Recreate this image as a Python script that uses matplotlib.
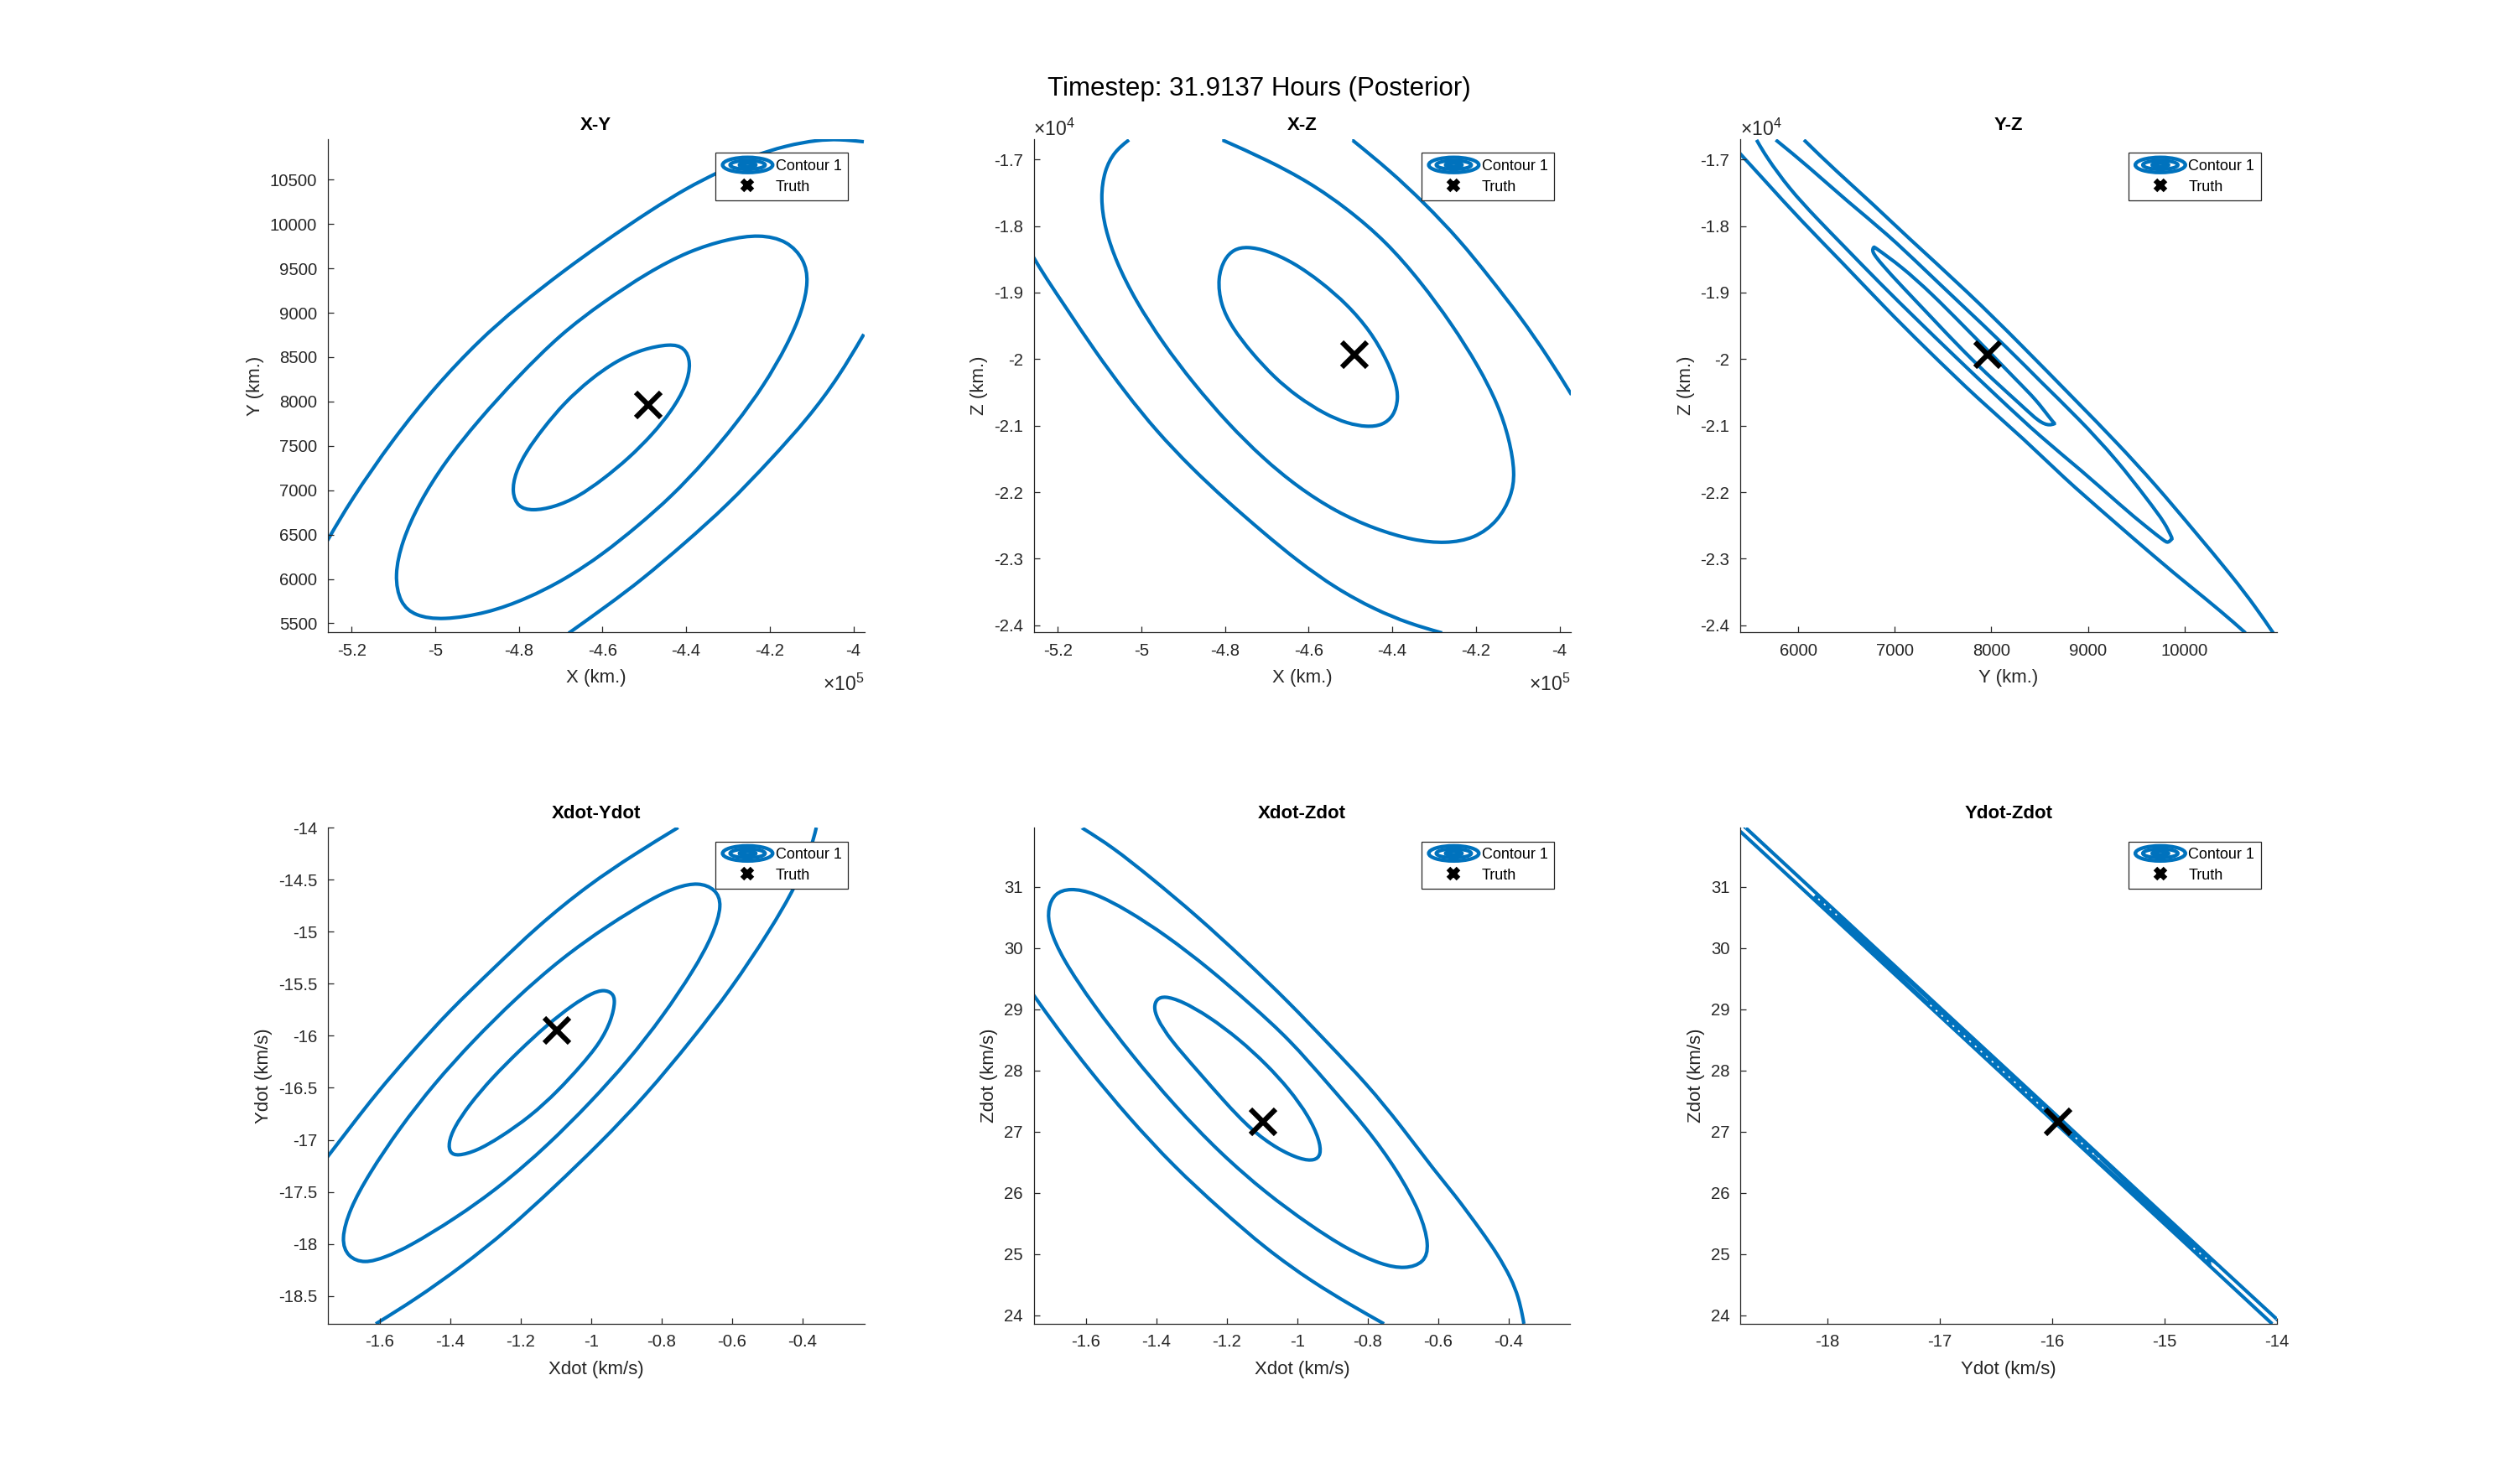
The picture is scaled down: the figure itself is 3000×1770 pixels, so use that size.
"""
Posterior covariance contours for one timestep, six state-pair panels.
"""

import numpy as np
import matplotlib

matplotlib.use("Agg")
import matplotlib.pyplot as plt
from matplotlib.lines import Line2D
from matplotlib.patches import Ellipse, PathPatch
from matplotlib.path import Path
from matplotlib.legend_handler import HandlerBase

plt.rcParams["font.family"] = ["Liberation Sans", "DejaVu Sans"]
plt.rcParams["mathtext.fontset"] = "custom"
plt.rcParams["mathtext.rm"] = "Liberation Sans"
plt.rcParams["mathtext.default"] = "regular"

BLUE = "#0072BD"
DARK = "#262626"

SUPTITLE = "Timestep: 31.9137 Hours (Posterior)"

# X in 1e5 km, Y in km
XY_INNER = [(-4.438, 8652), (-4.404, 8613), (-4.388, 8445), (-4.399, 8180), (-4.435, 7892),
            (-4.481, 7627), (-4.537, 7362), (-4.599, 7122), (-4.660, 6920), (-4.716, 6809),
            (-4.768, 6766), (-4.803, 6809), (-4.817, 6977), (-4.809, 7194), (-4.783, 7434),
            (-4.742, 7699), (-4.691, 7988), (-4.629, 8252), (-4.568, 8455), (-4.506, 8589)]
XY_MIDDLE = [(-4.225, 9884), (-4.158, 9816), (-4.117, 9600), (-4.107, 9359), (-4.122, 9022),
             (-4.158, 8637), (-4.214, 8180), (-4.281, 7747), (-4.353, 7338), (-4.435, 6929),
             (-4.517, 6592), (-4.599, 6280), (-4.691, 5991), (-4.783, 5774), (-4.875, 5615),
             (-4.983, 5534), (-5.049, 5582), (-5.085, 5726), (-5.098, 6039), (-5.080, 6424),
             (-5.039, 6857), (-4.978, 7314), (-4.896, 7795), (-4.803, 8277), (-4.701, 8758),
             (-4.599, 9119), (-4.491, 9456), (-4.394, 9696), (-4.301, 9831)]
XY_OUTER_A = [(-5.258, 6434), (-5.203, 6881), (-5.101, 7579), (-4.998, 8180), (-4.896, 8686),
              (-4.803, 9071), (-4.691, 9480), (-4.599, 9792), (-4.486, 10153), (-4.394, 10418),
              (-4.332, 10562), (-4.250, 10755), (-4.158, 10889), (-4.086, 10947),
              (-4.035, 10957), (-3.975, 10928)]
XY_OUTER_B = [(-4.681, 5389), (-4.588, 5702), (-4.506, 5991), (-4.404, 6400), (-4.301, 6833),
              (-4.199, 7338), (-4.107, 7819), (-4.035, 8277), (-3.975, 8758)]

# X in 1e5 km, Z in km
XZ_INNER = [(-4.748, -18308), (-4.700, -18365), (-4.636, -18549), (-4.571, -18837),
            (-4.507, -19183), (-4.452, -19586), (-4.415, -19989), (-4.392, -20335),
            (-4.385, -20594), (-4.396, -20853), (-4.424, -20997), (-4.461, -21020),
            (-4.507, -20969), (-4.562, -20825), (-4.627, -20565), (-4.682, -20277),
            (-4.737, -19903), (-4.783, -19529), (-4.811, -19183), (-4.818, -18780),
            (-4.802, -18492), (-4.779, -18348)]
XZ_MIDDLE = [(-5.030, -16706), (-5.065, -16879), (-5.089, -17167), (-5.098, -17570),
             (-5.088, -18031), (-5.060, -18549), (-5.014, -19125), (-4.949, -19759),
             (-4.876, -20364), (-4.793, -20969), (-4.710, -21487), (-4.627, -21919),
             (-4.535, -22293), (-4.442, -22553), (-4.350, -22725), (-4.272, -22772),
             (-4.203, -22697), (-4.147, -22437), (-4.115, -22063), (-4.106, -21717),
             (-4.120, -21199), (-4.147, -20681), (-4.194, -20105), (-4.258, -19471),
             (-4.332, -18837), (-4.415, -18233), (-4.507, -17743), (-4.599, -17340),
             (-4.700, -17006), (-4.807, -16706)]
XZ_OUTER_A = [(-4.496, -16706), (-4.406, -17167), (-4.323, -17657), (-4.240, -18204),
              (-4.166, -18780), (-4.092, -19380), (-4.028, -19960), (-3.973, -20519)]
XZ_OUTER_B = [(-5.259, -18463), (-5.230, -18768), (-5.176, -19269), (-5.112, -19874),
              (-5.038, -20508), (-4.964, -21084), (-4.881, -21631), (-4.798, -22121),
              (-4.708, -22610), (-4.627, -23031), (-4.535, -23445), (-4.442, -23762),
              (-4.359, -23975), (-4.281, -24114)]

# Y, Z in km
YZ_INNER = [(6786, -18314), (6786, -18314), (7066, -18604), (7385, -19020), (7705, -19490),
            (8024, -19960), (8263, -20320), (8463, -20610), (8603, -20882), (8655, -20969),
            (8655, -20969), (8603, -20997), (8503, -20957), (8303, -20681), (8024, -20320),
            (7705, -19874), (7385, -19380), (7066, -18895), (6866, -18578), (6755, -18377)]
YZ_MIDDLE = [(5569, -16706), (5669, -16960), (5908, -17440), (6188, -17880), (6467, -18293),
             (6842, -18855), (7243, -19426), (7591, -19916), (8081, -20590), (8512, -21173),
             (8933, -21672), (9332, -22191), (9620, -22540), (9790, -22730), (9828, -22766),
             (9872, -22697), (9872, -22697), (9800, -22466), (9621, -22121), (9301, -21516),
             (8902, -20890), (8503, -20330), (8197, -19874), (7620, -19084), (7305, -18650),
             (6928, -18127), (6507, -17628), (6108, -17109), (5768, -16706)]
YZ_OUTER_A = [(5385, -16891), (5669, -17340), (6028, -17916), (6467, -18564), (6899, -19229),
              (7305, -19817), (7880, -20623), (8339, -21200), (8743, -21775), (9222, -22380),
              (9701, -22985), (10060, -23417), (10379, -23791), (10631, -24114)]
YZ_OUTER_B = [(6060, -16706), (6387, -17167), (6786, -17685), (7101, -18127), (7764, -19000),
              (8312, -19791), (8874, -20623), (9301, -21257), (9701, -21890),
              (10100, -22581), (10499, -23273), (10739, -23733), (10918, -24114)]

# km/s
XDYD_INNER = [(-0.964, -15.556), (-0.939, -15.589), (-0.931, -15.663), (-0.942, -15.848),
              (-0.975, -16.070), (-1.030, -16.293), (-1.095, -16.533), (-1.172, -16.774),
              (-1.259, -16.978), (-1.325, -17.107), (-1.379, -17.156), (-1.401, -17.126),
              (-1.405, -17.033), (-1.390, -16.885), (-1.346, -16.663), (-1.281, -16.404),
              (-1.204, -16.144), (-1.128, -15.904), (-1.051, -15.700), (-0.997, -15.589)]
XDYD_MIDDLE = [(-0.696, -14.526), (-0.647, -14.589), (-0.627, -14.737), (-0.654, -15.033),
               (-0.708, -15.367), (-0.796, -15.811), (-0.894, -16.237), (-1.003, -16.644),
               (-1.123, -17.052), (-1.255, -17.441), (-1.386, -17.756), (-1.517, -18.026),
               (-1.583, -18.126), (-1.643, -18.189), (-1.691, -18.126), (-1.710, -17.959),
               (-1.685, -17.663), (-1.631, -17.330), (-1.543, -16.885), (-1.445, -16.459),
               (-1.336, -16.052), (-1.215, -15.644), (-1.084, -15.256), (-0.953, -14.941),
               (-0.822, -14.670), (-0.756, -14.570)]
XDYD_OUTER_A = [(-1.748, -17.163), (-1.685, -16.885), (-1.609, -16.552), (-1.510, -16.163),
                (-1.401, -15.756), (-1.281, -15.367), (-1.150, -14.941), (-1.008, -14.552),
                (-0.877, -14.256), (-0.753, -14.000)]
XDYD_OUTER_B = [(-1.611, -18.767), (-1.499, -18.533), (-1.368, -18.219), (-1.237, -17.867),
                (-1.106, -17.459), (-0.975, -17.033), (-0.844, -16.570), (-0.713, -16.033),
                (-0.603, -15.552), (-0.494, -14.996), (-0.417, -14.552), (-0.374, -14.181),
                (-0.361, -14.000)]

XDZD_INNER = [(-1.377, 29.219), (-1.328, 29.137), (-1.251, 28.885), (-1.164, 28.508),
              (-1.087, 28.099), (-1.022, 27.690), (-0.967, 27.249), (-0.937, 26.872),
              (-0.932, 26.620), (-0.951, 26.526), (-0.989, 26.544), (-1.055, 26.714),
              (-1.131, 27.029), (-1.208, 27.501), (-1.284, 28.004), (-1.361, 28.508),
              (-1.399, 28.854), (-1.407, 29.043), (-1.399, 29.169)]
XDZD_MIDDLE = [(-1.645, 30.981), (-1.579, 30.912), (-1.481, 30.616), (-1.372, 30.207),
               (-1.251, 29.672), (-1.131, 29.074), (-1.022, 28.508), (-0.913, 27.784),
               (-0.803, 27.060), (-0.716, 26.368), (-0.650, 25.676), (-0.625, 25.141),
               (-0.639, 24.858), (-0.694, 24.757), (-0.760, 24.826), (-0.858, 25.078),
               (-0.967, 25.487), (-1.087, 25.991), (-1.219, 26.651), (-1.350, 27.438),
               (-1.470, 28.256), (-1.579, 29.074), (-1.667, 29.829), (-1.705, 30.333),
               (-1.708, 30.648), (-1.689, 30.899)]
XDZD_OUTER_A = [(-1.612, 31.969), (-1.525, 31.655), (-1.415, 31.151), (-1.284, 30.522),
                (-1.153, 29.829), (-1.022, 29.106), (-0.913, 28.445), (-0.803, 27.784),
                (-0.705, 27.092), (-0.607, 26.337), (-0.557, 26.000), (-0.475, 25.360),
                (-0.432, 25.000), (-0.393, 24.606), (-0.372, 24.290), (-0.361, 24.000),
                (-0.357, 23.863)]
XDZD_OUTER_B = [(-1.748, 29.232), (-1.678, 28.665), (-1.590, 28.004), (-1.481, 27.249),
                (-1.350, 26.431), (-1.219, 25.739), (-1.087, 25.078), (-0.956, 24.543),
                (-0.847, 24.166), (-0.754, 23.863)]

YDZD_INNER = [(-17.156, 29.224), (-16.993, 28.959), (-16.589, 28.279), (-16.188, 27.602),
              (-15.790, 26.920), (-15.556, 26.505), (-15.810, 26.920), (-16.212, 27.602),
              (-16.611, 28.279), (-17.007, 28.959)]
YDZD_MIDDLE = [(-18.170, 30.947), (-17.988, 30.658), (-17.478, 29.808), (-16.974, 28.959),
               (-16.472, 28.109), (-15.973, 27.260), (-15.475, 26.410), (-14.981, 25.561),
               (-14.688, 25.051), (-14.520, 24.745), (-14.712, 25.051), (-15.019, 25.561),
               (-15.525, 26.410), (-16.028, 27.260), (-16.528, 28.109), (-17.026, 28.959),
               (-17.522, 29.808), (-18.012, 30.658)]
YDZD_OUTER_A = [(-18.777, 31.907), (-17.540, 29.808), (-16.542, 28.109), (-16.042, 27.260),
                (-15.040, 25.561), (-14.038, 23.854)]
YDZD_OUTER_B = [(-18.731, 31.970), (-17.460, 29.808), (-16.458, 28.109), (-15.958, 27.260),
                (-14.960, 25.561), (-14.000, 23.936)]
# small gaps showing between the overlapping Ydot-Zdot lines
YDZD_SPECKLE = [[(-18.133, 30.887), (-17.905, 30.520)],
                [(-17.086, 29.070), (-15.581, 26.550)],
                [(-14.743, 25.100), (-14.514, 24.755)]]

TRUTH_X = -4.49
TRUTH_Y = 7965
TRUTH_Z = -19938
TRUTH_XDOT = -1.098
TRUTH_YDOT = -15.948
TRUTH_ZDOT = 27.167

X_TICKS = [-5.2, -5.0, -4.8, -4.6, -4.4, -4.2, -4.0]
X_LABELS = ["-5.2", "-5", "-4.8", "-4.6", "-4.4", "-4.2", "-4"]
Y_TICKS = [5500, 6000, 6500, 7000, 7500, 8000, 8500, 9000, 9500, 10000, 10500]
Y_TICKS_B = [6000, 7000, 8000, 9000, 10000]
Z_TICKS = [-24000, -23000, -22000, -21000, -20000, -19000, -18000, -17000]
Z_LABELS = ["-2.4", "-2.3", "-2.2", "-2.1", "-2", "-1.9", "-1.8", "-1.7"]
XD_TICKS = [-1.6, -1.4, -1.2, -1.0, -0.8, -0.6, -0.4]
XD_LABELS = ["-1.6", "-1.4", "-1.2", "-1", "-0.8", "-0.6", "-0.4"]
YD_TICKS = [-18.5, -18, -17.5, -17, -16.5, -16, -15.5, -15, -14.5, -14]
YD_LABELS = ["-18.5", "-18", "-17.5", "-17", "-16.5", "-16", "-15.5", "-15", "-14.5", "-14"]
YD_TICKS_B = [-18, -17, -16, -15, -14]
ZD_TICKS = [24, 25, 26, 27, 28, 29, 30, 31]

X_LIM = (-5.258, -3.974)
Y_LIM = (5400, 10957)
Z_LIM = (-24103, -16695)
XD_LIM = (-1.748, -0.225)
YD_LIM = (-18.777, -14.0)
ZD_LIM = (23.862, 31.97)


def smooth_path(points, closed):
    """Uniform cubic B-spline with the read points as control polygon, evens out reading noise."""
    pts = np.array(points, dtype=float)
    if not closed:
        # clamp the ends so open arcs still reach the axes edges
        pts = np.vstack([pts[0], pts[0], pts, pts[-1], pts[-1]])
    n = len(pts)
    last = n if closed else n - 3
    verts = []
    codes = []
    for i in range(last):
        p0, p1, p2, p3 = (pts[(i + k) % n] for k in range(4))
        start = (p0 + 4 * p1 + p2) / 6
        if i == 0:
            verts.append(start)
            codes.append(Path.MOVETO)
        verts += [(2 * p1 + p2) / 3, (p1 + 2 * p2) / 3, (p1 + 4 * p2 + p3) / 6]
        codes += [Path.CURVE4] * 3
    return Path(verts, codes)


class ContourHandler(HandlerBase):
    """Legend key: the three nested ellipses MATLAB draws for a contour."""

    def create_artists(self, legend, orig_handle, xdescent, ydescent, width, height, fontsize, trans):
        cx = width / 2 - xdescent
        cy = height / 2 - ydescent
        out = []
        for w, h in [(43.0, 13.0), (30.0, 7.5), (14.0, 3.2)]:
            out.append(Ellipse((cx, cy), w, h, fill=False, edgecolor=BLUE, linewidth=3.1, transform=trans))
        return out


def draw_panel(ax, title, xlabel, ylabel, closed, arcs, truth, xlim, ylim, xticks, xlabels, yticks, ylabels):
    for pts in closed:
        ax.add_patch(PathPatch(smooth_path(pts, True), fill=False, edgecolor=BLUE, linewidth=3.0))
    for pts in arcs:
        ax.add_patch(PathPatch(smooth_path(pts, False), fill=False, edgecolor=BLUE, linewidth=3.0))
    ax.plot([truth[0]], [truth[1]], marker="x", color="k", markersize=21, markeredgewidth=4.4,
            linestyle="none", zorder=5)

    ax.set_xlim(xlim)
    ax.set_ylim(ylim)
    ax.set_xticks(xticks)
    ax.set_xticklabels(xlabels)
    ax.set_yticks(yticks)
    ax.set_yticklabels(ylabels)
    ax.spines["top"].set_visible(False)
    ax.spines["right"].set_visible(False)
    for side in ["left", "bottom"]:
        ax.spines[side].set_color(DARK)
        ax.spines[side].set_linewidth(0.9)
    ax.tick_params(direction="in", length=5, width=0.9, color=DARK, labelcolor=DARK, labelsize=14.6, pad=9)
    ax.set_xlabel(xlabel, fontsize=16, color=DARK, labelpad=9)
    ax.set_ylabel(ylabel, fontsize=16, color=DARK, labelpad=5)
    ax.set_title(title, fontsize=16, fontweight="bold", color="k", pad=8)

    contour_key = Line2D([], [], color=BLUE)
    truth_key = Line2D([], [], marker="x", color="k", markersize=9, markeredgewidth=4.6, linestyle="none")
    leg = ax.legend([contour_key, truth_key], ["Contour 1", "Truth"],
                    handler_map={contour_key: ContourHandler()},
                    loc="upper right", bbox_to_anchor=(0.970, 0.972), fontsize=13,
                    frameon=True, fancybox=False, framealpha=1, edgecolor=DARK,
                    handlelength=3.4, handletextpad=0.15, borderpad=0.42, labelspacing=0.42, borderaxespad=0)
    leg.get_frame().set_linewidth(0.9)
    leg.set_zorder(6)


def main():
    fig = plt.figure(figsize=(30, 17.7), dpi=100)

    def make_axes(left_px, top_px, bottom_px):
        return fig.add_axes([left_px / 3000, 1 - bottom_px / 1770, 640 / 3000, (bottom_px - top_px) / 1770])

    ax_xy = make_axes(390.5, 166, 754)
    ax_xz = make_axes(1232.5, 166, 754)
    ax_yz = make_axes(2075, 166, 754)
    ax_xdyd = make_axes(390.5, 987, 1579)
    ax_xdzd = make_axes(1232.5, 987, 1579)
    ax_ydzd = make_axes(2075, 987, 1579)

    draw_panel(ax_xy, "X-Y", "X (km.)", "Y (km.)", [XY_INNER, XY_MIDDLE], [XY_OUTER_A, XY_OUTER_B],
               (TRUTH_X, TRUTH_Y), X_LIM, Y_LIM, X_TICKS, X_LABELS, Y_TICKS, [str(v) for v in Y_TICKS])
    draw_panel(ax_xz, "X-Z", "X (km.)", "Z (km.)", [XZ_INNER], [XZ_MIDDLE, XZ_OUTER_A, XZ_OUTER_B],
               (TRUTH_X, TRUTH_Z), X_LIM, Z_LIM, X_TICKS, X_LABELS, Z_TICKS, Z_LABELS)
    draw_panel(ax_yz, "Y-Z", "Y (km.)", "Z (km.)", [YZ_INNER], [YZ_MIDDLE, YZ_OUTER_A, YZ_OUTER_B],
               (TRUTH_Y, TRUTH_Z), Y_LIM, Z_LIM, Y_TICKS_B, [str(v) for v in Y_TICKS_B], Z_TICKS, Z_LABELS)
    draw_panel(ax_xdyd, "Xdot-Ydot", "Xdot (km/s)", "Ydot (km/s)", [XDYD_INNER, XDYD_MIDDLE],
               [XDYD_OUTER_A, XDYD_OUTER_B], (TRUTH_XDOT, TRUTH_YDOT), XD_LIM, (-18.767, -14.0),
               XD_TICKS, XD_LABELS, YD_TICKS, YD_LABELS)
    draw_panel(ax_xdzd, "Xdot-Zdot", "Xdot (km/s)", "Zdot (km/s)", [XDZD_INNER, XDZD_MIDDLE],
               [XDZD_OUTER_A, XDZD_OUTER_B], (TRUTH_XDOT, TRUTH_ZDOT), XD_LIM, ZD_LIM,
               XD_TICKS, XD_LABELS, ZD_TICKS, [str(v) for v in ZD_TICKS])
    draw_panel(ax_ydzd, "Ydot-Zdot", "Ydot (km/s)", "Zdot (km/s)", [YDZD_INNER, YDZD_MIDDLE],
               [YDZD_OUTER_A, YDZD_OUTER_B], (TRUTH_YDOT, TRUTH_ZDOT), YD_LIM, ZD_LIM,
               YD_TICKS_B, [str(v) for v in YD_TICKS_B], ZD_TICKS, [str(v) for v in ZD_TICKS])

    for seg in YDZD_SPECKLE:
        xs, ys = zip(*seg)
        ax_ydzd.plot(xs, ys, color="white", linewidth=1.3, linestyle=(0, (1.3, 3.7)), zorder=4)

    # MATLAB style exponent labels
    for ax in [ax_xy, ax_xz]:
        ax.annotate("\u00d710$^{5}$", xy=(1, 0), xycoords="axes fraction", xytext=(0, -62),
                    textcoords="offset pixels", ha="right", va="center", fontsize=16.5, color=DARK)
    for ax in [ax_xz, ax_yz]:
        ax.annotate("\u00d710$^{4}$", xy=(0, 1), xycoords="axes fraction", xytext=(0, 12),
                    textcoords="offset pixels", ha="left", va="center", fontsize=16.5, color=DARK)

    fig.text(1501 / 3000, 1 - 106 / 1770, SUPTITLE, ha="center", va="center", fontsize=22.5, color="k")

    fig.savefig("out.png", dpi=100)
    plt.close(fig)


if __name__ == "__main__":
    main()
